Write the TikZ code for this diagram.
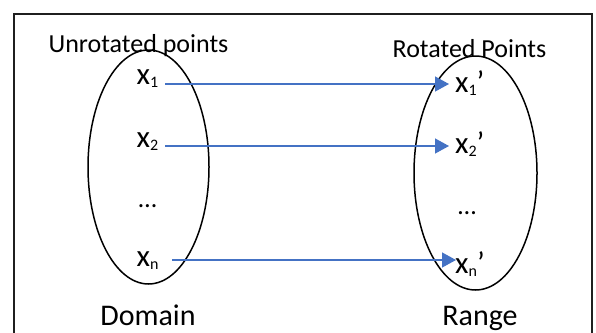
\documentclass[tikz,border=0pt]{standalone}
\usepackage{fontspec}
\setmainfont{Carlito}
\usetikzlibrary{arrows.meta,shapes.geometric}
\definecolor{arrblue}{HTML}{4472C4}
\definecolor{frame}{HTML}{1F1F1F}
\newcommand{\xsub}[1]{x\raisebox{-0.1em}{\fontsize{16}{20}\selectfont #1}}
\tikzset{
  lbl/.style={inner sep=0pt, anchor=base, font=\fontsize{26}{30}\selectfont},
  big/.style={inner sep=0pt, anchor=base, font=\fontsize{30}{34}\selectfont},
  pt/.style={inner sep=0pt, anchor=base west, font=\fontsize{31}{34}\selectfont},
  dots/.style={inner sep=0pt, anchor=base, font=\fontsize{26}{30}\selectfont},
  setline/.style={line width=1.5pt, black},
  maparrow/.style={line width=1.3pt, arrblue, -{Triangle[length=14pt,width=15pt]}}
}
\begin{document}
\begin{tikzpicture}[x=1pt,y=-1pt]
\useasboundingbox (0,0) rectangle (596,332);
\draw[line width=2pt, frame] (14,14) rectangle (592,350);
% labels
\node[lbl] (unrot) at (138.5,52) {Unrotated points};
\node[lbl] (rot) at (469.5,57) {Rotated Points};
\node[big] (domain) at (148,325.5) {Domain};
\node[big] (range) at (480,325) {Range};
% sets
\node[setline, draw, ellipse, minimum width=121pt, minimum height=234pt, inner sep=0pt] (dom) at (148.5,167) {};
\node[setline, draw, ellipse, minimum width=123pt, minimum height=234pt, inner sep=0pt] (ran) at (475.5,173) {};
% points
\node[pt] (x1) at (136.5,84) {\xsub{1}};
\node[pt] (x2) at (136.5,147) {\xsub{2}};
\node[dots] (d1) at (147.5,207) {…};
\node[pt] (xn) at (136.5,266) {\xsub{n}};
\node[pt] (y1) at (455,92) {\xsub{1}’};
\node[pt] (y2) at (455,153) {\xsub{2}’};
\node[dots] (d2) at (467,214) {…};
\node[pt] (yn) at (455,273) {\xsub{n}’};
% arrow endpoints
\coordinate (a1) at (165,84);
\coordinate (b1) at (449,84);
\coordinate (a2) at (165,146);
\coordinate (b2) at (449,146);
\coordinate (an) at (172,260);
\coordinate (bn) at (456,260);
\draw[maparrow] (a1) -- (b1);
\draw[maparrow] (a2) -- (b2);
\draw[maparrow] (an) -- (bn);
\end{tikzpicture}
\end{document}
